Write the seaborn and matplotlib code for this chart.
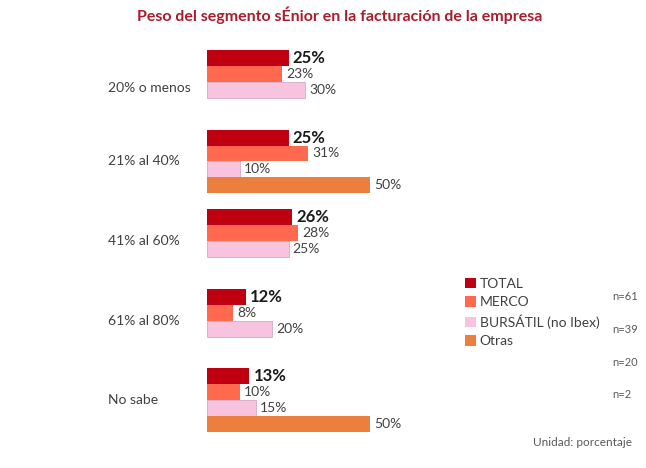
import pandas as pd
import numpy as np
import matplotlib.pyplot as plt
import seaborn as sns

# datos
categorias = ["20% o menos", "21% al 40%", "41% al 60%", "61% al 80%", "No sabe"]
series = ["TOTAL", "MERCO", "BURSÁTIL (no Ibex)", "Otras"]
total = [25, 25, 26, 12, 13]
merco = [23, 31, 28, 8, 10]
bursatil = [30, 10, 25, 20, 15]
otras = [np.nan, 50, np.nan, np.nan, 50]
muestras = ["n=61", "n=39", "n=20", "n=2"]

colores = ["#C00010", "#FF6A4F", "#F8C3DE", "#EC7F3E"]

filas = []
for serie, valores in zip(series, [total, merco, bursatil, otras]):
    for cat, v in zip(categorias, valores):
        filas.append({"categoria": cat, "serie": serie, "valor": v})
df = pd.DataFrame(filas).dropna()

sns.set_style("white")
plt.rcParams['font.family'] = ['Lato', 'DejaVu Sans']

fig = plt.figure(figsize=(6.46, 4.68), dpi=100)
ax = fig.add_axes([207 / 646, 1 - 432 / 468, 326 / 646, 382 / 468])

sns.barplot(data=df, y="categoria", x="valor", hue="serie", order=categorias,
            hue_order=series, palette=colores, orient="h", width=0.8,
            saturation=1, linewidth=0, ax=ax)

ax.set_xlim(0, 100)
ax.set_ylim(4.4, -0.4)
for i, cont in enumerate(ax.containers):
    etiquetas = [f"{w:.0f}%" for w in cont.datavalues]
    if i == 0:
        ax.bar_label(cont, labels=etiquetas, padding=3, fontsize=12,
                     fontweight="bold", color="#1a1a1a")
    else:
        ax.bar_label(cont, labels=etiquetas, padding=3, fontsize=10,
                     color="#404040")
    if i == 2:
        for p in cont.patches:
            p.set_edgecolor("#D9A8C4")
            p.set_linewidth(0.6)

# etiquetas de categoria a la izquierda
ax.set_yticks([])
ax.set_xticks([])
ax.set_xlabel("")
ax.set_ylabel("")
tr = ax.get_yaxis_transform()
desplaz = [0.08, 0, 0, 0, 0]
for i, cat in enumerate(categorias):
    ax.text(-99 / 326, i + desplaz[i], cat, transform=tr, ha="left", va="center",
            fontsize=10, color="#404040")
sns.despine(ax=ax, left=True, bottom=True)

handles, labels = ax.get_legend_handles_labels()
ax.get_legend().remove()
fig.legend(handles, labels, loc="upper left", bbox_to_anchor=(452 / 646, 1 - 265 / 468),
           frameon=False, fontsize=10, handlelength=0.8, handleheight=0.8,
           handletextpad=0.3, labelspacing=0.45, labelcolor="#404040")

for j, n in enumerate(muestras):
    fig.text(612 / 646, 1 - (297 + j * 32.5) / 468, n, ha="left", va="center",
             fontsize=8, color="#595959")

fig.text(632 / 646, 1 - 442 / 468, "Unidad: porcentaje", ha="right", va="center",
         fontsize=8.5, color="#595959")
fig.text(340 / 646, 1 - 15 / 468, "Peso del segmento sÉnior en la facturación de la empresa",
         ha="center", va="center", fontsize=11.5, fontweight="bold", color="#A81C2C")

fig.savefig("out.png", dpi=100)
